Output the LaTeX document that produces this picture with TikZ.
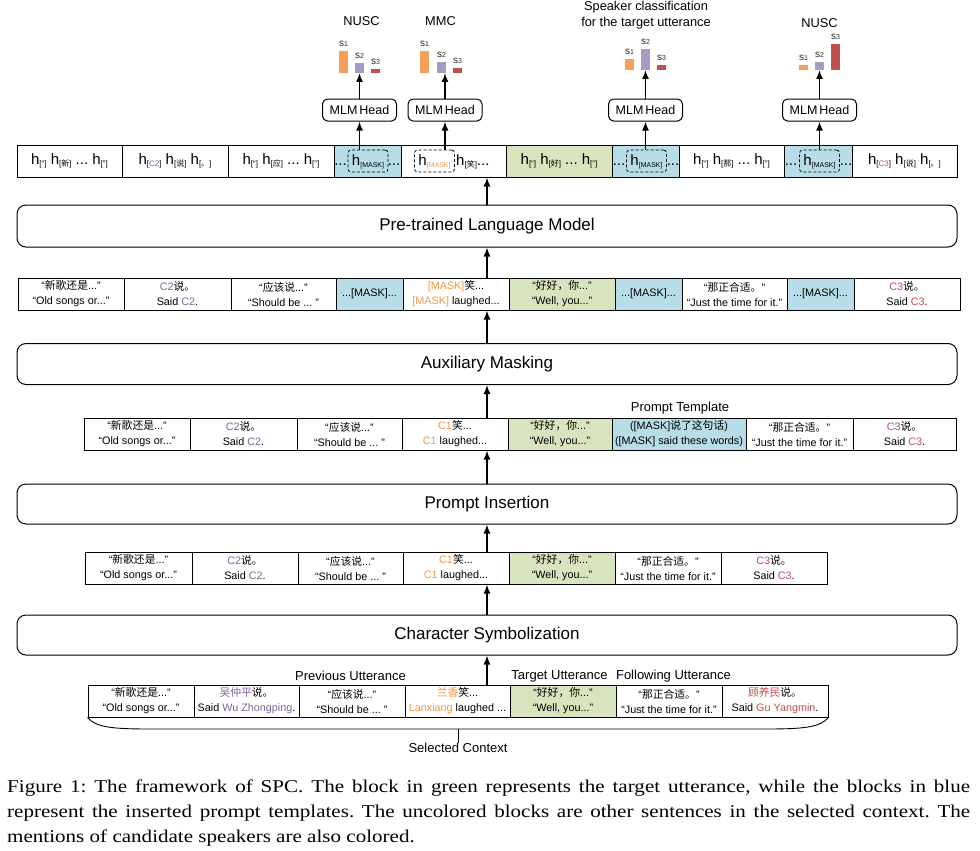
\documentclass[tikz,border=0pt]{standalone}
\usepackage{fontspec}
\setmainfont{Liberation Sans}
\newfontfamily\zhf{Noto Sans CJK SC}
\newfontfamily\capf{Liberation Serif}
\usetikzlibrary{arrows.meta}
\frenchspacing
\definecolor{cblue}{HTML}{B7DDE8}
\definecolor{cgreen}{HTML}{D7E4BD}
\definecolor{corange}{HTML}{F79646}
\definecolor{cpurple}{HTML}{8064A2}
\definecolor{cred}{HTML}{C0504D}
\definecolor{borange}{HTML}{F5A05A}
\definecolor{bpurple}{HTML}{A79BC4}
\definecolor{bred}{HTML}{C0504D}
\newcommand\zh[1]{{\zhf #1}}
\newcommand\hsub[1]{\raisebox{-2pt}{\fontsize{8}{9}\selectfont[#1]}}
\newcommand\msub[1]{\raisebox{-2pt}{\fontsize{7}{8}\selectfont[#1]}}
\newcommand\hh[1]{h\hsub{#1}}
\newcommand\mycell[7]{\node[#1,fill=#6,minimum width={#4pt-#3pt}] (#2) at ({(#3+#4)/2},{#5+16}) {#7};}
\newcommand\mybar[7]{\fill[#6] (#2,#4) rectangle (#3,#5);
  \node[slab] (#1) at ({(#2+#3)/2},{#4-7}) {\fontsize{10}{10}\selectfont s\fontsize{7}{7}\selectfont #7};}
\newcommand\capline[1]{\scalebox{1.17}[1]{\makebox[823pt][s]{#1}}}
\tikzset{
 cellbox/.style={draw,line width=1pt,minimum height=32pt,inner sep=0pt,align=center,font=\fontsize{10.8}{15}\selectfont},
 hcell/.style={draw,line width=1pt,minimum height=32pt,inner sep=0pt,font=\fontsize{15}{16}\selectfont},
 htext/.style={inner sep=0pt,font=\fontsize{15}{16}\selectfont,text height=11pt,text depth=3pt},
 dbox/.style={htext,draw,dashed,dash pattern=on 3pt off 2pt,line width=0.8pt,rounded corners=3pt,minimum width=40pt,minimum height=22pt},
 bigbox/.style={draw,line width=1pt,rounded corners=9pt,minimum width=940pt,inner sep=0pt,font=\fontsize{17}{20}\selectfont},
 mlm/.style={draw,line width=1pt,rounded corners=5pt,minimum width=74pt,minimum height=22pt,inner sep=0pt,font=\fontsize{12.5}{14}\selectfont},
 ttl/.style={inner sep=0pt,align=center,font=\fontsize{12.8}{16}\selectfont},
 lbl/.style={inner sep=0pt,font=\fontsize{13}{15}\selectfont},
 slab/.style={inner sep=0pt,text=black!85},
 arr/.style={-{Latex[length=9pt,width=7pt]},line width=1.5pt},
 captxt/.style={inner sep=0pt,anchor=base west,font=\capf\fontsize{18}{25}\selectfont},
}
\begin{document}
\begin{tikzpicture}[x=1pt,y=-1pt]
\useasboundingbox (0,0) rectangle (980,851);
\fill[white] (0,0) rectangle (980,851);

% titles
\node[ttl] (t1) at (361.5,21) {NUSC};
\node[ttl] (t2) at (440.5,21) {MMC};
\node[ttl] (t3) at (646,15) {Speaker classification\\for the target utterance};
\node[ttl] (t4) at (819.5,23) {NUSC};

% bars
\mybar{s11}{339}{348}{51}{73}{borange}{1}
\mybar{s12}{355}{364}{63}{73}{bpurple}{2}
\mybar{s13}{371}{380}{69}{73}{bred}{3}
\mybar{s21}{420}{429}{51}{73}{borange}{1}
\mybar{s22}{437}{446}{62}{73}{bpurple}{2}
\mybar{s23}{453}{462}{68}{73}{bred}{3}
\mybar{s31}{625}{634}{59}{70}{borange}{1}
\mybar{s32}{641}{650}{49}{70}{bpurple}{2}
\mybar{s33}{657}{666}{65}{70}{bred}{3}
\mybar{s41}{799}{808}{65}{70}{borange}{1}
\mybar{s42}{815}{824}{62}{70}{bpurple}{2}
\mybar{s43}{831}{840}{44}{70}{bred}{3}
\coordinate (b1) at (359.5,73);
\coordinate (b2) at (445,73);
\coordinate (b3) at (645.5,70);
\coordinate (b4) at (819.5,70);

% MLM heads
\node[mlm] (m1) at (359.5,110) {MLM\hspace{2pt}Head};
\node[mlm] (m2) at (445,110) {MLM\hspace{2pt}Head};
\node[mlm] (m3) at (645.5,110) {MLM\hspace{2pt}Head};
\node[mlm] (m4) at (819.5,110) {MLM\hspace{2pt}Head};
\foreach \i in {1,2,3,4} {\draw[arr] (m\i.north) -- (b\i);}

% h row
\mycell{hcell}{h1}{17}{122}{145}{white}{\hh{“} \hh{\zh{新}} ... \hh{”}}
\mycell{hcell}{h2}{122}{228}{145}{white}{\hh{\textcolor{cpurple}{C2}} \hh{\zh{说}} \hh{\zh{。}}}
\mycell{hcell}{h3}{228}{334}{145}{white}{\hh{“} \hh{\zh{应}} ... \hh{”}}
\mycell{hcell}{h4}{334}{401}{145}{cblue}{}
\mycell{hcell}{h5}{401}{506}{145}{white}{}
\mycell{hcell}{h6}{506}{612}{145}{cgreen}{\hh{“} \hh{\zh{好}} ... \hh{”}}
\mycell{hcell}{h7}{612}{679}{145}{cblue}{}
\mycell{hcell}{h8}{679}{784}{145}{white}{\hh{“} \hh{\zh{那}} ... \hh{”}}
\mycell{hcell}{h9}{784}{852}{145}{cblue}{}
\mycell{hcell}{h10}{852}{957}{145}{white}{\hh{\textcolor{cred}{C3}} \hh{\zh{说}} \hh{\zh{。}}}
\node[dbox] (d1) at (368,161) {h\msub{MASK}};
\node[htext] (d1l) at (340.5,161) {...};
\node[htext] (d1r) at (394,161) {...};
\node[dbox] (d2) at (434.5,161) {h{\color{corange}\msub{MASK}}};
\node[htext,anchor=west] (d2r) at (456,161) {\hh{\zh{笑}}...};
\node[dbox] (d3) at (646.5,161) {h\msub{MASK}};
\node[htext] (d3l) at (619,161) {...};
\node[htext] (d3r) at (673,161) {...};
\node[dbox] (d4) at (819.5,161) {h\msub{MASK}};
\node[htext] (d4l) at (791,161) {...};
\node[htext] (d4r) at (846,161) {...};
\draw[arr] (d1.north -| m1) -- (m1.south);
\draw[arr] (d2.north -| m2) -- (m2.south);
\draw[arr] (d3.north -| m3) -- (m3.south);
\draw[arr] (d4.north -| m4) -- (m4.south);

% big boxes
\node[bigbox,minimum height=42pt] (plm) at (487,226) {Pre-trained Language Model};
\node[bigbox,minimum height=41pt] (aux) at (487,364) {Auxiliary Masking};
\node[bigbox,minimum height=40pt] (pins) at (487,504) {Prompt Insertion};
\node[bigbox,minimum height=40pt] (chs) at (487,635) {Character Symbolization};

% row 2
\mycell{cellbox}{r2a}{18}{124}{278}{white}{“\zh{新歌还是}...”\\“Old songs or...”}
\mycell{cellbox}{r2b}{124}{231}{278}{white}{\textcolor{cpurple}{C2}\zh{说。}\\Said \textcolor{cpurple}{C2}.}
\mycell{cellbox}{r2c}{231}{336}{278}{white}{“\zh{应该说}...”\\“Should be ... ”}
\mycell{cellbox}{r2d}{336}{403}{278}{cblue}{...[MASK]...}
\mycell{cellbox}{r2e}{403}{509}{278}{white}{\textcolor{corange}{[MASK]}\zh{笑}...\\\textcolor{corange}{[MASK]} laughed...}
\mycell{cellbox}{r2f}{509}{615}{278}{cgreen}{“\zh{好好，你}...”\\“Well, you...”}
\mycell{cellbox}{r2g}{615}{682}{278}{cblue}{...[MASK]...}
\mycell{cellbox}{r2h}{682}{787}{278}{white}{“\zh{那正合适。}”\\“Just the time for it.”}
\mycell{cellbox}{r2i}{787}{854}{278}{cblue}{...[MASK]...}
\mycell{cellbox}{r2j}{854}{960}{278}{white}{\textcolor{cred}{C3}\zh{说。}\\Said \textcolor{cred}{C3}.}

% row 3
\mycell{cellbox}{r3a}{84}{190}{418}{white}{“\zh{新歌还是}...”\\“Old songs or...”}
\mycell{cellbox}{r3b}{190}{297}{418}{white}{\textcolor{cpurple}{C2}\zh{说。}\\Said \textcolor{cpurple}{C2}.}
\mycell{cellbox}{r3c}{297}{402}{418}{white}{“\zh{应该说}...”\\“Should be ... ”}
\mycell{cellbox}{r3d}{402}{508}{418}{white}{\textcolor{corange}{C1}\zh{笑}...\\\textcolor{corange}{C1} laughed...}
\mycell{cellbox}{r3e}{508}{612}{418}{cgreen}{“\zh{好好，你}...”\\“Well, you...”}
\mycell{cellbox}{r3f}{612}{746}{418}{cblue}{([MASK]\zh{说了这句话})\\([MASK] said these words)}
\mycell{cellbox}{r3g}{746}{853}{418}{white}{“\zh{那正合适。}”\\“Just the time for it.”}
\mycell{cellbox}{r3h}{853}{956}{418}{white}{\textcolor{cred}{C3}\zh{说。}\\Said \textcolor{cred}{C3}.}
\node[lbl] (pt) at (680,408) {Prompt Template};

% row 4
\mycell{cellbox}{r4a}{85}{192}{552}{white}{“\zh{新歌还是}...”\\“Old songs or...”}
\mycell{cellbox}{r4b}{192}{298}{552}{white}{\textcolor{cpurple}{C2}\zh{说。}\\Said \textcolor{cpurple}{C2}.}
\mycell{cellbox}{r4c}{298}{403}{552}{white}{“\zh{应该说}...”\\“Should be ... ”}
\mycell{cellbox}{r4d}{403}{509}{552}{white}{\textcolor{corange}{C1}\zh{笑}...\\\textcolor{corange}{C1} laughed...}
\mycell{cellbox}{r4e}{509}{615}{552}{cgreen}{“\zh{好好，你}...”\\“Well, you...”}
\mycell{cellbox}{r4f}{615}{721}{552}{white}{“\zh{那正合适。}”\\“Just the time for it.”}
\mycell{cellbox}{r4g}{721}{827}{552}{white}{\textcolor{cred}{C3}\zh{说。}\\Said \textcolor{cred}{C3}.}

% row 5
\mycell{cellbox}{r5a}{88}{194}{685}{white}{“\zh{新歌还是}...”\\“Old songs or...”}
\mycell{cellbox}{r5b}{194}{299}{685}{white}{\textcolor{cpurple}{\zh{吴仲平}}\zh{说。}\\Said \textcolor{cpurple}{Wu Zhongping}.}
\mycell{cellbox}{r5c}{299}{405}{685}{white}{“\zh{应该说}...”\\“Should be ... ”}
\mycell{cellbox}{r5d}{405}{510}{685}{white}{\textcolor{corange}{\zh{兰香}}\zh{笑}...\\\textcolor{corange}{Lanxiang} laughed ...}
\mycell{cellbox}{r5e}{510}{616}{685}{cgreen}{“\zh{好好，你}...”\\“Well, you...”}
\mycell{cellbox}{r5f}{616}{722}{685}{white}{“\zh{那正合适。}”\\“Just the time for it.”}
\mycell{cellbox}{r5g}{722}{828}{685}{white}{\textcolor{cred}{\zh{顾养民}}\zh{说。}\\Said \textcolor{cred}{Gu Yangmin}.}
\node[lbl] (pu) at (350.5,676) {Previous Utterance};
\node[lbl] (tu) at (559.5,676) {Target Utterance};
\node[lbl] (fu) at (673.5,676) {Following Utterance};

% brace
\draw[line width=0.9pt] (r5a.south west) .. controls (96,727) and (110,729) .. (150,729) -- (766,729) .. controls (806,729) and (820,727) .. (r5g.south east);
\coordinate (bt) at (458,729);
\node[lbl] (sc) at (458,748) {Selected Context};
\draw[line width=0.9pt] (bt) -- (sc.north);

% vertical flow arrows
\draw[arr] (plm.north) -- (plm.north |- h5.south);
\draw[arr] (r2e.north -| plm) -- (plm.south);
\draw[arr] (aux.north) -- (aux.north |- r2e.south);
\draw[arr] (r3d.north -| aux) -- (aux.south);
\draw[arr] (pins.north) -- (pins.north |- r3d.south);
\draw[arr] (r4d.north -| pins) -- (pins.south);
\draw[arr] (chs.north) -- (chs.north |- r4d.south);
\draw[arr] (r5d.north -| chs) -- (chs.south);

% caption
\node[captxt] (c1) at (7,792) {\capline{Figure 1: The framework of SPC. The block in green represents the target utterance, while the blocks in blue}};
\node[captxt] (c2) at (7,817) {\capline{represent the inserted prompt templates. The uncolored blocks are other sentences in the selected context. The}};
\node[captxt] (c3) at (7,842) {\scalebox{1.17}[1]{mentions of candidate speakers are also colored.}};
\end{tikzpicture}
\end{document}
